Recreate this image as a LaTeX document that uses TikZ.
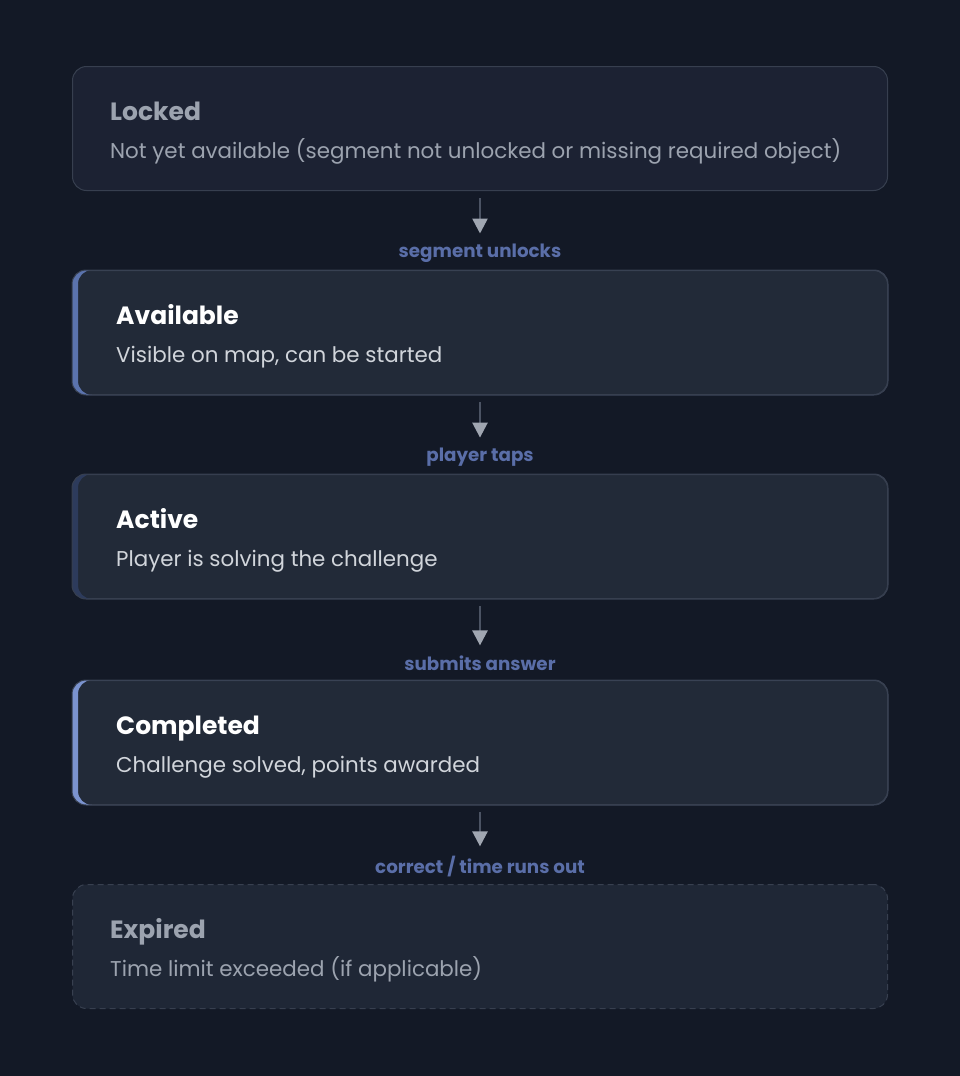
\documentclass[tikz,border=0pt]{standalone}
\usepackage{fontspec}
\setmainfont{Poppins}
\usetikzlibrary{arrows.meta,positioning}
\definecolor{bg}{HTML}{131926}
\definecolor{lockfill}{HTML}{1C2233}
\definecolor{boxfill}{HTML}{222A38}
\definecolor{expfill}{HTML}{1F2736}
\definecolor{bord}{HTML}{373F4F}
\definecolor{dimtext}{HTML}{9CA3AF}
\definecolor{subtext}{HTML}{D1D5DB}
\definecolor{lbl}{HTML}{5A6EA8}
\definecolor{shaft}{HTML}{4B5363}
\definecolor{headc}{HTML}{A0A6B1}
\definecolor{accA}{HTML}{5B73AD}
\definecolor{accB}{HTML}{2D3B5C}
\definecolor{accC}{HTML}{7B93CF}
\tikzset{
  statebox/.style={draw=bord, line width=1pt, rounded corners=14pt, minimum width=815pt, minimum height=124pt, inner sep=0pt, anchor=north west},
  titletext/.style={anchor=base west, inner sep=0pt, font=\fontsize{25}{29}\selectfont\bfseries},
  subtitletext/.style={anchor=base west, inner sep=0pt, font=\fontsize{21.4}{25}\selectfont},
  edgelabel/.style={anchor=center, inner sep=0pt, text=lbl, font=\fontsize{18.3}{21}\selectfont\bfseries},
  conn/.style={draw=shaft, line width=2.5pt, -{Triangle[color=headc, length=15pt, width=15pt]}},
}
\newcommand{\accentbar}[3]{% name, color
  \begin{scope}
    \clip[rounded corners=14pt] (#1.north west) rectangle (#1.south east);
    \fill[#2, even odd rule, rounded corners=14pt] (#1.north west) rectangle (#1.south east)
      ([xshift=#3]#1.north west) rectangle ([xshift=20pt]#1.south east);
  \end{scope}}
\begin{document}
\begin{tikzpicture}[x=1pt,y=-1pt]
\fill[bg] (0,0) rectangle (960,1076);
\useasboundingbox (0,0) rectangle (960,1076);

% boxes
\node[statebox, fill=lockfill] (locked) at (72,66) {};
\node[statebox, fill=boxfill] (avail) at (72,270) {};
\node[statebox, fill=boxfill] (active) at (72,474) {};
\node[statebox, fill=boxfill] (compl) at (72,680) {};
\node[statebox, fill=expfill, dashed, dash pattern=on 6pt off 4pt] (expired) at (72,884) {};

\accentbar{avail}{accA}{6pt}
\accentbar{active}{accB}{6pt}
\accentbar{compl}{accC}{6pt}
\draw[bord, line width=1pt, rounded corners=14pt] (avail.north west) rectangle (avail.south east);
\draw[bord, line width=1pt, rounded corners=14pt] (active.north west) rectangle (active.south east);
\draw[bord, line width=1pt, rounded corners=14pt] (compl.north west) rectangle (compl.south east);

% texts
\node[titletext, text=dimtext] (lockedT) at (110,120) {Locked};
\node[subtitletext, text=dimtext] (lockedS) at (110,158) {Not yet available (segment not unlocked or missing required object)};
\node[titletext, text=white] (availT) at (116,324) {Available};
\node[subtitletext, text=subtext] (availS) at (116,362) {Visible on map, can be started};
\node[titletext, text=white] (activeT) at (116,528) {Active};
\node[subtitletext, text=subtext] (activeS) at (116,566) {Player is solving the challenge};
\node[titletext, text=white] (complT) at (116,734) {Completed};
\node[subtitletext, text=subtext] (complS) at (116,772) {Challenge solved, points awarded};
\node[titletext, text=dimtext] (expT) at (110,938) {Expired};
\node[subtitletext, text=dimtext] (expS) at (110,976) {Time limit exceeded (if applicable)};

% edge labels
\node[edgelabel] (l1) at (480,253) {segment unlocks};
\node[edgelabel] (l2) at (480,457) {player taps};
\node[edgelabel] (l3) at (480,663) {submits answer};
\node[edgelabel] (l4) at (480,867) {correct / time runs out};

% connectors
\draw[conn] ([yshift=-7pt]locked.south) -- ([yshift=10pt]l1.north);
\draw[conn] ([yshift=-7pt]avail.south) -- ([yshift=10pt]l2.north);
\draw[conn] ([yshift=-7pt]active.south) -- ([yshift=10pt]l3.north);
\draw[conn] ([yshift=-7pt]compl.south) -- ([yshift=10pt]l4.north);
\end{tikzpicture}
\end{document}
